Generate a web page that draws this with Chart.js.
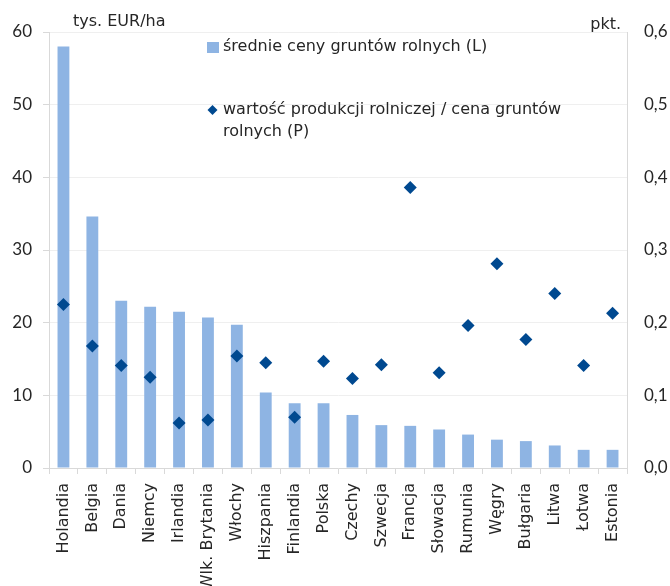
<!DOCTYPE html>
<html lang="pl">
<head>
<meta charset="utf-8">
<title>Ceny gruntów rolnych w UE</title>
<script src="https://cdn.jsdelivr.net/npm/chart.js@4/dist/chart.umd.min.js"></script>
<style>
  html, body { margin: 0; padding: 0; background: #ffffff; }
  #wrap { width: 670px; height: 586px; }
</style>
</head>
<body>
<div id="wrap"><canvas id="chart" width="670" height="586"></canvas></div>
<script>
// Kraje, posortowane wg średniej ceny gruntów
const countries = ['Holandia', 'Belgia', 'Dania', 'Niemcy', 'Irlandia', 'Wlk. Brytania', 'Włochy',
  'Hiszpania', 'Finlandia', 'Polska', 'Czechy', 'Szwecja', 'Francja', 'Słowacja', 'Rumunia',
  'Węgry', 'Bułgaria', 'Litwa', 'Łotwa', 'Estonia'];

// Średnie ceny gruntów rolnych, tys. EUR/ha (lewa oś)
const landPrices = [58.0, 34.6, 23.0, 22.2, 21.5, 20.7, 19.7, 10.4, 8.9, 8.9,
  7.3, 5.9, 5.8, 5.3, 4.6, 3.9, 3.7, 3.1, 2.5, 2.5];

// Wartość produkcji rolniczej / cena gruntów, pkt. (prawa oś)
const productionRatio = [0.225, 0.168, 0.141, 0.125, 0.062, 0.066, 0.154, 0.145, 0.070, 0.147,
  0.123, 0.142, 0.386, 0.131, 0.196, 0.281, 0.177, 0.240, 0.141, 0.213];

const priceLabel = 'średnie ceny gruntów rolnych (L)';
const ratioLabel = ['wartość produkcji rolniczej / cena gruntów', 'rolnych (P)'];
const leftUnit = 'tys. EUR/ha';
const rightUnit = 'pkt.';

const BAR_COLOR = 'rgb(142,180,227)';
const DOT_COLOR = 'rgb(0,73,144)';
const TEXT_COLOR = '#262626';
const AXIS_COLOR = '#d9d9d9';
const GRID_COLOR = '#efefef';
const TEXT_FONT = '"DejaVu Sans", "Open Sans", sans-serif';
const NUM_FONT = 'Lato, "Liberation Sans", sans-serif';

// Legenda w polu wykresu oraz jednostki osi
const annotations = {
  id: 'annotations',
  afterDraw(chart) {
    const ctx = chart.ctx;
    ctx.save();
    ctx.fillStyle = TEXT_COLOR;
    ctx.textBaseline = 'middle';
    ctx.font = '16px ' + TEXT_FONT;

    ctx.textAlign = 'left';
    ctx.fillText(leftUnit, 73, 22);
    ctx.textAlign = 'right';
    ctx.fillText(rightUnit, 621, 25);

    // pozycja: słupki
    const barDs = chart.data.datasets[1];
    ctx.fillStyle = barDs.backgroundColor;
    ctx.fillRect(207, 42, 12, 11);
    ctx.fillStyle = TEXT_COLOR;
    ctx.textAlign = 'left';
    ctx.fillText(barDs.label, 223, 47);

    // pozycja: romby
    const dotDs = chart.data.datasets[0];
    ctx.fillStyle = dotDs.backgroundColor;
    ctx.beginPath();
    ctx.moveTo(212.5, 105);
    ctx.lineTo(217.5, 110);
    ctx.lineTo(212.5, 115);
    ctx.lineTo(207.5, 110);
    ctx.closePath();
    ctx.fill();
    ctx.fillStyle = TEXT_COLOR;
    ratioLabel.forEach((line, i) => ctx.fillText(line, 223, 110 + i * 22));
    ctx.restore();
  }
};

new Chart(document.getElementById('chart'), {
  data: {
    labels: countries,
    datasets: [
      {
        type: 'line',
        label: ratioLabel.join(' '),
        data: productionRatio,
        yAxisID: 'y1',
        showLine: false,
        pointStyle: 'rectRot',
        pointRadius: 6.5,
        pointBorderWidth: 0,
        backgroundColor: DOT_COLOR,
        borderColor: DOT_COLOR,
        order: 0
      },
      {
        type: 'bar',
        label: priceLabel,
        data: landPrices,
        yAxisID: 'y',
        backgroundColor: BAR_COLOR,
        borderWidth: 0,
        categoryPercentage: 1.0,
        barPercentage: 0.41,
        order: 1
      }
    ]
  },
  options: {
    responsive: false,
    animation: false,
    events: [],
    layout: { padding: { top: 32, left: 0, right: 0, bottom: 0 } },
    plugins: {
      legend: { display: false },
      tooltip: { enabled: false }
    },
    scales: {
      x: {
        offset: true,
        afterFit(scale) { scale.height = 118; },
        border: { color: AXIS_COLOR, width: 1 },
        grid: {
          offset: true,
          drawOnChartArea: false,
          drawTicks: true,
          tickLength: 6,
          tickColor: AXIS_COLOR
        },
        ticks: {
          minRotation: 90,
          maxRotation: 90,
          autoSkip: false,
          padding: 9,
          color: TEXT_COLOR,
          font: { family: TEXT_FONT, size: 16 }
        }
      },
      y: {
        position: 'left',
        min: 0,
        max: 60,
        afterFit(scale) { scale.width = 49; },
        border: { color: AXIS_COLOR, width: 1 },
        grid: {
          color: GRID_COLOR,
          tickColor: AXIS_COLOR,
          tickLength: 6,
          drawTicks: true
        },
        ticks: {
          stepSize: 10,
          padding: 11,
          color: TEXT_COLOR,
          font: { family: NUM_FONT, size: 17 }
        }
      },
      y1: {
        position: 'right',
        min: 0,
        max: 0.6,
        afterFit(scale) { scale.width = 43; },
        border: { color: AXIS_COLOR, width: 1 },
        grid: { drawOnChartArea: false, drawTicks: false },
        ticks: {
          stepSize: 0.1,
          padding: 17,
          color: TEXT_COLOR,
          font: { family: NUM_FONT, size: 17 },
          callback: (v) => Number(v).toFixed(1).replace('.', ',')
        }
      }
    }
  },
  plugins: [annotations]
});
</script>
</body>
</html>
